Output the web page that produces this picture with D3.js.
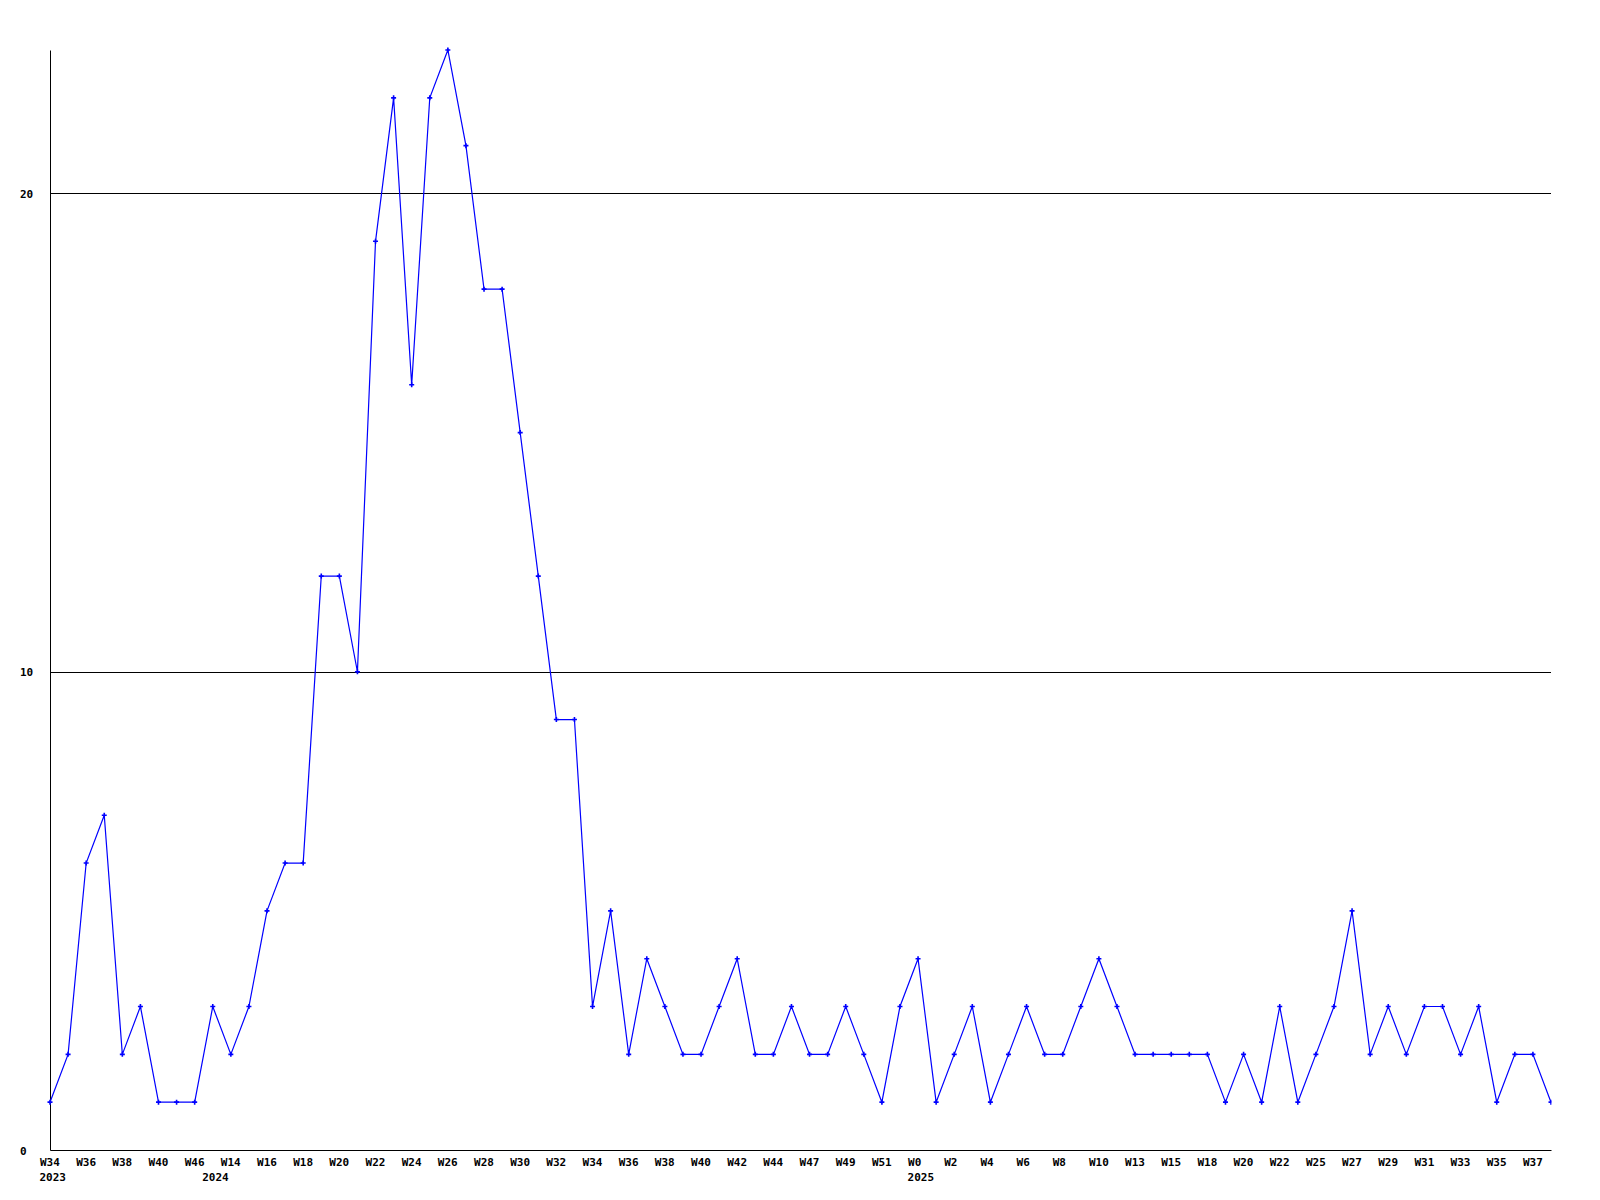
<!DOCTYPE html>
<html>
<head>
<meta charset="utf-8">
<script src="https://cdn.jsdelivr.net/npm/d3@7"></script>
<style>
  body { margin: 0; background: #fff; }
  svg text { font-family: "DejaVu Sans Mono", monospace; font-weight: bold; font-size: 11px; fill: #000; }
</style>
</head>
<body>
<svg width="1600" height="1200"></svg>
<script>

// weekly values, one per point
var values = [1, 2, 6, 7, 2, 3, 1, 1, 1, 3,
  2, 3, 5, 6, 6, 12, 12, 10, 19, 22,
  16, 22, 23, 21, 18, 18, 15, 12, 9, 9,
  3, 5, 2, 4, 3, 2, 2, 3, 4, 2,
  2, 3, 2, 2, 3, 2, 1, 3, 4, 1,
  2, 3, 1, 2, 3, 2, 2, 3, 4, 3,
  2, 2, 2, 2, 2, 1, 2, 1, 3, 1,
  2, 3, 5, 2, 3, 2, 3, 3, 2, 3,
  1, 2, 2, 1];

// labels shown on every second point
var weekLabels = ["W34", "W36", "W38", "W40", "W46", "W14", "W16", "W18", "W20", "W22",
  "W24", "W26", "W28", "W30", "W32", "W34", "W36", "W38", "W40", "W42",
  "W44", "W47", "W49", "W51", "W0", "W2", "W4", "W6", "W8", "W10",
  "W13", "W15", "W18", "W20", "W22", "W25", "W27", "W29", "W31", "W33",
  "W35", "W37"];

// year labels and the point where each year starts
var yearLabels = ["2023", "2024", "2025"];
var yearStart = [0, 9, 48];

var yTicks = [0, 10, 20];
var gridValues = [10, 20];

var svg = d3.select("svg"),
  plotLeft = 50, plotRight = 1551, plotTop = 50, plotBottom = 1150;

var x = d3.scaleLinear()
  .domain([0, values.length - 1])
  .range([plotLeft, plotRight]);

var y = d3.scaleLinear()
  .domain([0, 23])
  .range([plotBottom, plotTop]);

// gridlines
svg.append("g")
  .selectAll("line")
  .data(gridValues)
  .enter().append("line")
  .attr("x1", plotLeft)
  .attr("x2", plotRight)
  .attr("y1", function (d) { return Math.round(y(d)) + 0.5; })
  .attr("y2", function (d) { return Math.round(y(d)) + 0.5; })
  .style("stroke", "#000")
  .style("stroke-width", 1);

// x axis
var xAxis = d3.axisBottom(x)
  .tickValues(weekLabels.map(function (d, i) { return i * 2; }))
  .tickFormat(function (d) { return weekLabels[d / 2]; })
  .tickSize(0)
  .tickSizeOuter(0);

var gx = svg.append("g")
  .attr("transform", "translate(0," + plotBottom + ")")
  .call(xAxis);
gx.select(".domain").style("stroke", "#000");
gx.selectAll("text")
  .attr("text-anchor", "start")
  .attr("x", -10.5)
  .attr("y", 16)
  .attr("dy", null);
gx.attr("font-family", null).attr("font-size", null);

// year labels
svg.append("g")
  .selectAll("text")
  .data(yearLabels)
  .enter().append("text")
  .attr("x", function (d, i) { return x(yearStart[i]) - 10.5; })
  .attr("y", plotBottom + 31)
  .text(function (d) { return d; });

// y axis
var yAxis = d3.axisLeft(y)
  .tickValues(yTicks)
  .tickSize(0)
  .tickSizeOuter(0);

var gy = svg.append("g")
  .attr("transform", "translate(" + plotLeft + ",0)")
  .call(yAxis);
gy.select(".domain").style("stroke", "#000");
gy.selectAll("text")
  .attr("text-anchor", "start")
  .attr("x", -30)
  .attr("dy", "0.38em");
gy.attr("font-family", null).attr("font-size", null);

// clip so the last marker is cut at the plot edge
svg.append("clipPath")
  .attr("id", "plotClip")
  .append("rect")
  .attr("x", 0)
  .attr("y", 0)
  .attr("width", plotRight + 0.5)
  .attr("height", 1200);

var plot = svg.append("g").attr("clip-path", "url(#plotClip)");

var line = d3.line()
  .x(function (d, i) { return x(i); })
  .y(function (d) { return y(d); });

plot.append("path")
  .datum(values)
  .attr("d", line)
  .style("fill", "none")
  .style("stroke", "#0000ff")
  .style("stroke-width", 1.2);

// small plus markers
plot.append("g")
  .selectAll("path")
  .data(values)
  .enter().append("path")
  .attr("transform", function (d, i) { return "translate(" + x(i) + "," + y(d) + ")"; })
  .attr("d", "M-2.5,0H2.5M0,-2.5V2.5")
  .style("stroke", "#0000ff")
  .style("stroke-width", 1.6);

</script>
</body>
</html>
